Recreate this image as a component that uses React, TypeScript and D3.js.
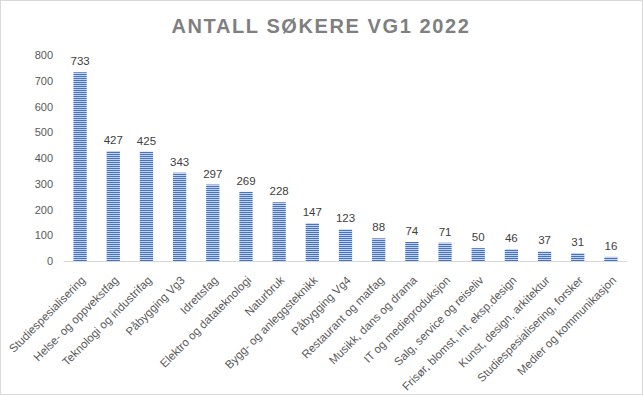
import React from 'react';
import { scaleBand, scaleLinear } from 'd3';

const categories = [
  'Studiespesialisering',
  'Helse- og oppvekstfag',
  'Teknologi og industrifag',
  'Påbygging Vg3',
  'Idrettsfag',
  'Elektro og datateknologi',
  'Naturbruk',
  'Bygg- og anleggsteknikk',
  'Påbygging Vg4',
  'Restaurant og matfag',
  'Musikk, dans og drama',
  'IT og medieproduksjon',
  'Salg, service og reiseliv',
  'Frisør, blomst, int, eksp.design',
  'Kunst, design, arkitektur',
  'Studiespesialisering, forsker',
  'Medier og kommunikasjon',
];
const applicants = [733, 427, 425, 343, 297, 269, 228, 147, 123, 88, 74, 71, 50, 46, 37, 31, 16];
const yTicks = [0, 100, 200, 300, 400, 500, 600, 700, 800];

const W = 643;
const H = 395;
const font = '"Liberation Sans", Arial, sans-serif';

export default function App() {
  const x = scaleBand<string>()
    .domain(categories)
    .range([63.5, 627.5])
    .paddingInner(0.6)
    .paddingOuter(0.3);

  const y = scaleLinear().domain([0, 800]).range([261, 55]);

  return (
    <svg
      width={W}
      height={H}
      style={{ position: 'absolute', left: 0, top: 0, background: '#fff' }}
    >
      <defs>
        <pattern id="stripes" width="4" height="2" patternUnits="userSpaceOnUse">
          <rect width="4" height="2" fill="#4472C4" />
          <rect y="1" width="4" height="1" fill="#c5d3ee" />
        </pattern>
      </defs>
      <rect x={0.5} y={0.5} width={W - 1} height={H - 1} fill="#fff" stroke="#d9d9d9" />

      <text
        x={321}
        y={33}
        textAnchor="middle"
        fontFamily={font}
        fontWeight="bold"
        fontSize={20}
        letterSpacing={1.6}
        fill="#7f7f7f"
      >
        ANTALL SØKERE VG1 2022
      </text>

      {yTicks.map(t => (
        <text
          key={t}
          x={53}
          y={y(t) + 4}
          textAnchor="end"
          fontFamily={font}
          fontSize={11}
          fill="#595959"
        >
          {t}
        </text>
      ))}

      {categories.map((c, i) => {
        const v = applicants[i];
        const bx = x(c) as number;
        const cx = bx + x.bandwidth() / 2;
        return (
          <g key={c}>
            <rect
              x={bx}
              y={y(v)}
              width={x.bandwidth()}
              height={y(0) - y(v)}
              fill="url(#stripes)"
            />
            <text
              x={cx}
              y={y(v) - 7}
              textAnchor="middle"
              fontFamily={font}
              fontSize={11.5}
              fill="#404040"
            >
              {v}
            </text>
            <text
              transform={`translate(${cx + 6},${y(0) + 20}) rotate(-45)`}
              textAnchor="end"
              fontFamily={font}
              fontSize={11.5}
              fill="#595959"
            >
              {c}
            </text>
          </g>
        );
      })}

      <line x1={63.5} x2={627.5} y1={y(0) + 0.5} y2={y(0) + 0.5} stroke="#d9d9d9" />
    </svg>
  );
}
